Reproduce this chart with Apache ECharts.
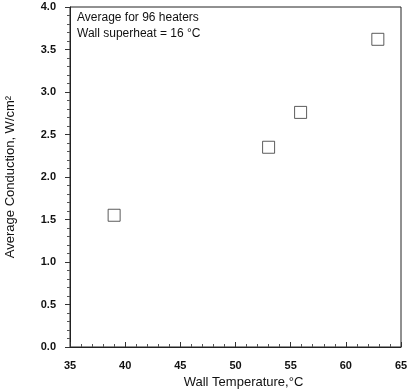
<!DOCTYPE html>
<html>
<head>
<meta charset="utf-8">
<script src="https://cdn.jsdelivr.net/npm/echarts@6/dist/echarts.min.js"></script>
<style>
  html, body { margin: 0; padding: 0; background: #fff; }
  #chart { width: 409px; height: 392px; }
</style>
</head>
<body>
<div id="chart"></div>
<script>
// Average conduction heat flux vs. wall temperature
const wallTemp = [39.0, 53.0, 55.9, 62.9];          // °C
const conduction = [1.55, 2.35, 2.76, 3.62];        // W/cm²
const xTicks = [35, 40, 45, 50, 55, 60, 65];
const yTicks = [0.0, 0.5, 1.0, 1.5, 2.0, 2.5, 3.0, 3.5, 4.0];
const notes = ['Average for 96 heaters', 'Wall superheat = 16 \u00B0C'];

const points = wallTemp.map((t, i) => [t, conduction[i]]);
const font = 'Liberation Sans, Arial, sans-serif';

const chart = echarts.init(document.getElementById('chart'));
chart.setOption({
  animation: false,
  backgroundColor: '#ffffff',
  grid: { left: 70, right: 8, top: 7, bottom: 45, outerBoundsMode: 'none', containLabel: false,
    show: true, borderColor: '#222', borderWidth: 1 },
  xAxis: {
    type: 'value',
    min: xTicks[0], max: xTicks[xTicks.length - 1], interval: 5,
    name: 'Wall Temperature,\u00B0C',
    nameLocation: 'middle', nameGap: 29,
    nameTextStyle: { fontFamily: font, fontSize: 13, color: '#111', padding: [0, 0, 0, 16] },
    axisLine: { lineStyle: { color: '#222', width: 1 } },
    axisTick: { inside: true, length: 5, lineStyle: { color: '#333' } },
    minorTick: { show: true, splitNumber: 5, length: 3, lineStyle: { color: '#555' } },
    axisLabel: { fontFamily: font, fontSize: 11, fontWeight: 'bold', color: '#111', margin: 13,
      formatter: v => String(v) },
    splitLine: { show: false }
  },
  yAxis: {
    type: 'value',
    min: yTicks[0], max: yTicks[yTicks.length - 1], interval: 0.5,
    name: 'Average Conduction, W/cm\u00B2',
    nameLocation: 'middle', nameGap: 53, nameRotate: 90,
    nameTextStyle: { fontFamily: font, fontSize: 13, color: '#111' },
    axisLine: { lineStyle: { color: '#222', width: 1 } },
    axisTick: { inside: false, length: 5, lineStyle: { color: '#333' } },
    minorTick: { show: true, splitNumber: 5, length: 3, lineStyle: { color: '#555' } },
    axisLabel: { fontFamily: font, fontSize: 11, fontWeight: 'bold', color: '#111', margin: 14,
      formatter: v => v.toFixed(1) },
    splitLine: { show: false }
  },
  series: [{
    type: 'scatter',
    data: points,
    symbol: 'rect',
    symbolSize: 12,
    itemStyle: { color: 'rgba(255,255,255,0)', borderColor: '#333', borderWidth: 1 }
  }],
  graphic: notes.map((t, i) => ({
    type: 'text',
    left: 77, top: 12 + i * 16,
    style: { text: t, fontFamily: font, fontSize: 12, fill: '#111' }
  }))
});
</script>
</body>
</html>
